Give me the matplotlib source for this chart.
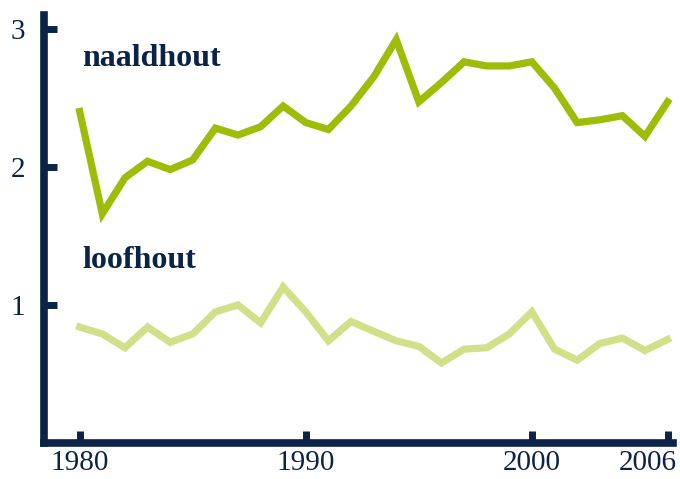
"""
Houtoogst naaldhout en loofhout, 1980-2006.
"""

import matplotlib
matplotlib.use("Agg")
import matplotlib.pyplot as plt
import matplotlib.transforms as mtransforms

years = list(range(1980, 2007))
naaldhout = [2.40, 1.66, 1.92, 2.04, 1.98, 2.05, 2.28, 2.23, 2.29, 2.44,
             2.32, 2.27, 2.44, 2.65, 2.92, 2.47, 2.61, 2.76, 2.73, 2.73,
             2.76, 2.57, 2.32, 2.34, 2.37, 2.22, 2.47]
loofhout = [0.84, 0.79, 0.69, 0.84, 0.73, 0.79, 0.95, 1.00, 0.87, 1.13,
            0.95, 0.74, 0.88, 0.81, 0.74, 0.70, 0.58, 0.68, 0.69, 0.79,
            0.95, 0.68, 0.60, 0.72, 0.76, 0.67, 0.75]
xticks = [1980, 1990, 2000, 2006]
yticks = [1, 2, 3]

navy = '#0B2346'
green_dark = '#9DBD08'
green_light = '#D3E08A'

plt.rcParams['font.family'] = ['Liberation Serif', 'DejaVu Serif']

fig = plt.figure(figsize=(6.8, 4.79), dpi=100)
ax = fig.add_axes([0.064, 0.075, 0.926, 0.894])

ax.plot(years, loofhout, color=green_light, linewidth=5.2, solid_joinstyle='miter')
ax.plot(years, naaldhout, color=green_dark, linewidth=5.2, solid_joinstyle='miter')

ax.text(1980.1, 2.73, 'naaldhout', fontsize=23, fontweight='bold', color=navy)
ax.text(1980.1, 1.265, 'loofhout', fontsize=23, fontweight='bold', color=navy)

ax.set_xlim(1978.4, 2006.25)
ax.set_ylim(0, 3.1)
ax.set_xticks(xticks)
ax.set_yticks(yticks)

for side in ['top', 'right']:
    ax.spines[side].set_visible(False)
for side in ['left', 'bottom']:
    ax.spines[side].set_color(navy)
    ax.spines[side].set_linewidth(5.5)

ax.tick_params(direction='in', length=9, width=5, color=navy,
               labelcolor=navy, labelsize=21)
ax.tick_params(axis='x', pad=5)
ax.tick_params(axis='y', pad=13)

# last year label sits left of its tick, as in the original
last = ax.get_xticklabels()[-1]
last.set_transform(last.get_transform() +
                   mtransforms.ScaledTranslation(-0.2, 0, fig.dpi_scale_trans))

fig.savefig('out.png', dpi=100)
